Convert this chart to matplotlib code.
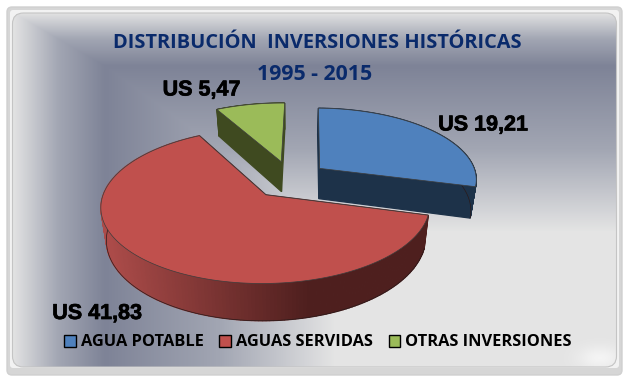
#------------------------------Librerias---------------------------------------
import numpy as np
import matplotlib
matplotlib.use('Agg')
import matplotlib.pyplot as plt
import matplotlib.patheffects as pe
from matplotlib.patches import FancyBboxPatch, Polygon, Rectangle
from matplotlib.colors import LinearSegmentedColormap, to_rgb
#------------------------------------------------------------------------------

#------------------------------Datos-------------------------------------------
categorias = ['AGUA POTABLE', 'AGUAS SERVIDAS', 'OTRAS INVERSIONES']
valores = [19.21, 41.83, 5.47]
etiquetas = ['US 19,21', 'US 41,83', 'US 5,47']
colores = ['#4f81bd', '#c0504d', '#9bbb59']
colores_lado = ['#1d3249', '#a84c4a', '#3f4a20']
titulo = 'DISTRIBUCIÓN  INVERSIONES HISTÓRICAS'
subtitulo = '1995 - 2015'
#------------------------------------------------------------------------------

#------------------------------Geometria del pastel----------------------------
x0, y0 = 290, 179.5   # centro del disco en pantalla
Rx, Ry = 158, 71.5
k = 0.14            # perspectiva
grosor = 31
explota_u = 0.24
explota_v = 0.265
inicio = 1.0        # grados, sentido horario desde arriba


def proyecta(u, v, abajo=False):
    w = 1 + k * v
    esc = 1.03 if abajo else 1.0
    X = x0 + Rx * u / (w * esc)
    Y = y0 - Ry * v / w + (grosor / w if abajo else 0)
    return X, Y


def sector(a, b):
    # devuelve u,v del sector con apice desplazado
    m = np.radians((a + b) / 2)
    du, dv = explota_u * np.sin(m), explota_v * np.cos(m)
    t = np.radians(np.linspace(a, b, 200))
    return du, dv, du + np.sin(t), dv + np.cos(t)


def pared(ax, u1, v1, u2, v2, color, z):
    xa, ya = proyecta(u1, v1)
    xb, yb = proyecta(u2, v2)
    xc, yc = proyecta(u2, v2, True)
    xd, yd = proyecta(u1, v1, True)
    ax.add_patch(Polygon([(xa, ya), (xb, yb), (xc, yc), (xd, yd)], closed=True,
                         fc=color, ec=color, lw=0.9, zorder=z))
#------------------------------------------------------------------------------

#------------------------------Figura------------------------------------------
fig = plt.figure(figsize=(6.28, 3.79), dpi=100, facecolor='white')
ax = fig.add_axes([0, 0, 1, 1])
ax.set_xlim(0, 628)
ax.set_ylim(379, 0)
ax.axis('off')

# marco
ax.add_patch(FancyBboxPatch((7, 7), 615, 368, boxstyle='round,pad=0,rounding_size=5',
                            fc='#d6d6d6', ec='#d0d0d0', lw=1, zorder=0))
ax.add_patch(FancyBboxPatch((10, 10), 609, 358, boxstyle='round,pad=0,rounding_size=3',
                            fc='#f2f2f2', ec='none', zorder=0.5))
panel = FancyBboxPatch((12.5, 13), 604, 354, boxstyle='round,pad=0,rounding_size=11',
                       fc='none', ec='#c4c4c4', lw=0.8, zorder=1.5)
ax.add_patch(panel)

# fondo degradado
xx, yy = np.meshgrid(np.arange(0, 628) + 0.5, np.arange(0, 379) + 0.5)
xd, yd = 105, 66
afuera = np.maximum((xd - xx) / (xd - 12), (yd - yy) / (yd - 12))
adentro = np.minimum((xx - xd) / (335 - xd), (yy - yd) / (232 - yd))
t = np.where((xx < xd) | (yy < yd), afuera, adentro)
t = np.clip(t, 0, 1)
mapa = LinearSegmentedColormap.from_list('fondo', ['#7e8397', '#a2a6b3', '#e4e4e4'])
fondo = ax.imshow(t, cmap=mapa, vmin=0, vmax=1, extent=(0, 628, 379, 0),
                  aspect='auto', zorder=1, interpolation='bilinear')
fondo.set_clip_path(panel)
ax.set_xlim(0, 628)
ax.set_ylim(379, 0)

# brillo esquina inferior derecha
brillo = np.exp(-(((xx - 600) / 22) ** 2 + ((yy - 358) / 12) ** 2))
img = np.zeros(brillo.shape + (4,))
img[..., :3] = 1
img[..., 3] = brillo * 0.6
b = ax.imshow(img, extent=(0, 628, 379, 0), aspect='auto', zorder=1.2)
b.set_clip_path(panel)

# pastel: angulos desde los valores
angulos = np.array(valores) / sum(valores) * 360
limites = inicio + np.concatenate([[0], np.cumsum(angulos)])
orden = [2, 0, 1]  # verde, azul, rojo
z = 3
for i in orden:
    a, b_ang = limites[i], limites[i + 1]
    du, dv, us, vs = sector(a, b_ang)
    # caras radiales
    lado = colores_lado[i] if i != 1 else '#4e1f1e'
    pared(ax, du, dv, us[0], vs[0], lado, z)
    pared(ax, du, dv, us[-1], vs[-1], lado, z)
    # pared exterior
    for j in range(len(us) - 1):
        if i == 1:
            # el rojo se oscurece hacia la derecha
            f = np.clip((proyecta(us[j], vs[j])[0] - 110) / (310 - 110), 0, 1)
            c = np.array(to_rgb('#ab4b49')) * (1 - f) + np.array(to_rgb('#4e1f1e')) * f
        else:
            c = colores_lado[i]
        pared(ax, us[j], vs[j], us[j + 1], vs[j + 1], c, z)
    # contorno de la pared
    xl, yl = proyecta(us, vs, True)
    vis = vs < 0.35
    ax.plot(xl[vis], yl[vis], color='#2a1a1a', lw=0.5, zorder=z + 0.1)
    # cara superior
    xs, ys = proyecta(np.r_[du, us], np.r_[dv, vs])
    ax.add_patch(Polygon(np.c_[xs, ys], closed=True, fc=colores[i], ec='#3c3c3c', lw=0.5, zorder=z + 0.2))
    z += 1

# textos
ax.text(317, 43, titulo, color='#0a2a6b', fontsize=14.4, fontweight='bold', family='Open Sans',
        ha='center', va='center', zorder=10)
ax.text(315, 74, subtitulo, color='#0a2a6b', fontsize=15.3, fontweight='bold', family='Open Sans',
        ha='center', va='center', zorder=10)
pos_etq = [(483, 125), (97, 313.5), (201.5, 90)]
for e, (px, py) in zip(etiquetas, pos_etq):
    ax.text(px, py, e, color='black', fontsize=15.5, fontweight='bold', family='Liberation Sans',
            ha='center', va='center', zorder=10,
            path_effects=[pe.withStroke(linewidth=0.5, foreground='black')])

# leyenda
manijas = [Rectangle((0, 0), 1, 1, fc=c, ec='black', lw=1) for c in colores]
ley = ax.legend(manijas, categorias, ncol=3, loc='center', bbox_to_anchor=(318, 342.5),
                bbox_transform=ax.transData, frameon=False, handlelength=0.72, handleheight=0.72,
                handletextpad=0.3, columnspacing=0.95, borderpad=0,
                prop={'family': 'Open Sans', 'weight': 'bold', 'size': 11.8})
ley.set_zorder(10)

fig.savefig('out.png', dpi=100)
#------------------------------------------------------------------------------
